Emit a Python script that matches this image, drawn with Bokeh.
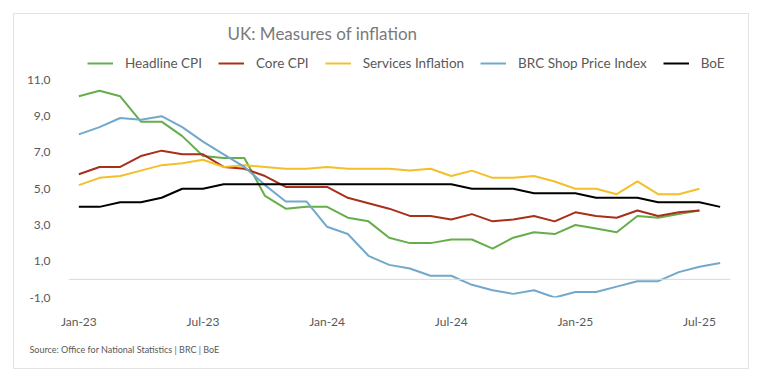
from bokeh.plotting import figure
from bokeh.models import Span, FixedTicker, Legend, LegendItem, Label, Title
from bokeh.embed import file_html
from bokeh.resources import INLINE

months = ["Jan-23", "Feb-23", "Mar-23", "Apr-23", "May-23", "Jun-23", "Jul-23", "Aug-23",
          "Sep-23", "Oct-23", "Nov-23", "Dec-23", "Jan-24", "Feb-24", "Mar-24", "Apr-24",
          "May-24", "Jun-24", "Jul-24", "Aug-24", "Sep-24", "Oct-24", "Nov-24", "Dec-24",
          "Jan-25", "Feb-25", "Mar-25", "Apr-25", "May-25", "Jun-25", "Jul-25", "Aug-25"]

headline_cpi = [10.1, 10.4, 10.1, 8.7, 8.7, 7.9, 6.8, 6.7, 6.7, 4.6, 3.9, 4.0, 4.0, 3.4, 3.2, 2.3,
                2.0, 2.0, 2.2, 2.2, 1.7, 2.3, 2.6, 2.5, 3.0, 2.8, 2.6, 3.5, 3.4, 3.6, 3.8]
core_cpi = [5.8, 6.2, 6.2, 6.8, 7.1, 6.9, 6.9, 6.2, 6.1, 5.7, 5.1, 5.1, 5.1, 4.5, 4.2, 3.9,
            3.5, 3.5, 3.3, 3.6, 3.2, 3.3, 3.5, 3.2, 3.7, 3.5, 3.4, 3.8, 3.5, 3.7, 3.8]
services = [5.2, 5.6, 5.7, 6.0, 6.3, 6.4, 6.6, 6.2, 6.3, 6.2, 6.1, 6.1, 6.2, 6.1, 6.1, 6.1,
            6.0, 6.1, 5.7, 6.0, 5.6, 5.6, 5.7, 5.4, 5.0, 5.0, 4.7, 5.4, 4.7, 4.7, 5.0]
brc_spi = [8.0, 8.4, 8.9, 8.8, 9.0, 8.4, 7.6, 6.9, 6.2, 5.2, 4.3, 4.3, 2.9, 2.5, 1.3, 0.8,
           0.6, 0.2, 0.2, -0.3, -0.6, -0.8, -0.6, -1.0, -0.7, -0.7, -0.4, -0.1, -0.1, 0.4, 0.7, 0.9]
boe = [4.0, 4.0, 4.25, 4.25, 4.5, 5.0, 5.0, 5.25, 5.25, 5.25, 5.25, 5.25, 5.25, 5.25, 5.25, 5.25,
       5.25, 5.25, 5.25, 5.0, 5.0, 5.0, 4.75, 4.75, 4.75, 4.5, 4.5, 4.5, 4.25, 4.25, 4.25, 4.0]

series_names = ["Headline CPI", "Core CPI", "Services Inflation", "BRC Shop Price Index", "BoE"]
y_ticks = [-1, 1, 3, 5, 7, 9, 11]
x_tick_idx = [0, 6, 12, 18, 24, 30]

FONT = "Lato"
TXT = "#595959"

# frame extends up to the top of the card so the title and legend can sit inside it
p = figure(width=736, height=356, output_backend="svg", toolbar_location=None,
           x_range=(-0.5, len(months) - 0.5), y_range=(-1, 14.61),
           min_border_left=54, min_border_right=20, min_border_top=0, min_border_bottom=73)
p.margin = (13, 0, 0, 13)
p.styles = {"border": "1px solid #e3e3e3"}
p.outline_line_color = None
p.xgrid.visible = False
p.ygrid.visible = False

p.add_layout(Span(location=0, dimension="width", line_color="#d9d9d9", line_width=1))

colors = ["#66ad4c", "#a8301a", "#f4bf2a", "#72a8cb", "#000000"]
data = [headline_cpi, core_cpi, services, brc_spi, boe]
items = []
for name, vals, c in zip(series_names, data, colors):
    r = p.line(x=list(range(len(vals))), y=vals, line_color=c, line_width=2, line_join="round")
    items.append(LegendItem(label=name, renderers=[r]))

p.yaxis.ticker = FixedTicker(ticks=y_ticks)
p.yaxis.major_label_overrides = {t: f"{t:.1f}".replace(".", ",") for t in y_ticks}
p.xaxis.ticker = FixedTicker(ticks=x_tick_idx)
p.xaxis.major_label_overrides = {i: months[i] for i in x_tick_idx}
for ax in (p.xaxis[0], p.yaxis[0]):
    ax.axis_line_color = None
    ax.major_tick_line_color = None
    ax.minor_tick_line_color = None
    ax.major_label_text_font = FONT
    ax.major_label_text_font_size = "12px"
    ax.major_label_text_color = TXT
p.yaxis.major_label_standoff = 12
p.xaxis.major_label_standoff = 10

legend = Legend(items=items, orientation="horizontal", location=(19, 226),
                border_line_color=None, background_fill_alpha=0,
                label_text_font=FONT, label_text_font_size="13.5px", label_text_color=TXT,
                glyph_width=26, glyph_height=14, label_standoff=12, spacing=16,
                padding=0, margin=0)
p.add_layout(legend, "center")

p.add_layout(Label(x=159, y=264, x_units="screen", y_units="screen",
                   text="UK: Measures of inflation", text_font=FONT, text_font_size="17px",
                   text_color="#7a7a7a", text_baseline="middle"))

source = Title(text="Source: Office for National Statistics | BRC | BoE", align="left", offset=-39,
               text_font=FONT, text_font_size="9px", text_font_style="normal",
               text_color=TXT, standoff=20)
p.add_layout(source, "below")

open("out.html", "w").write(file_html(p, INLINE))
